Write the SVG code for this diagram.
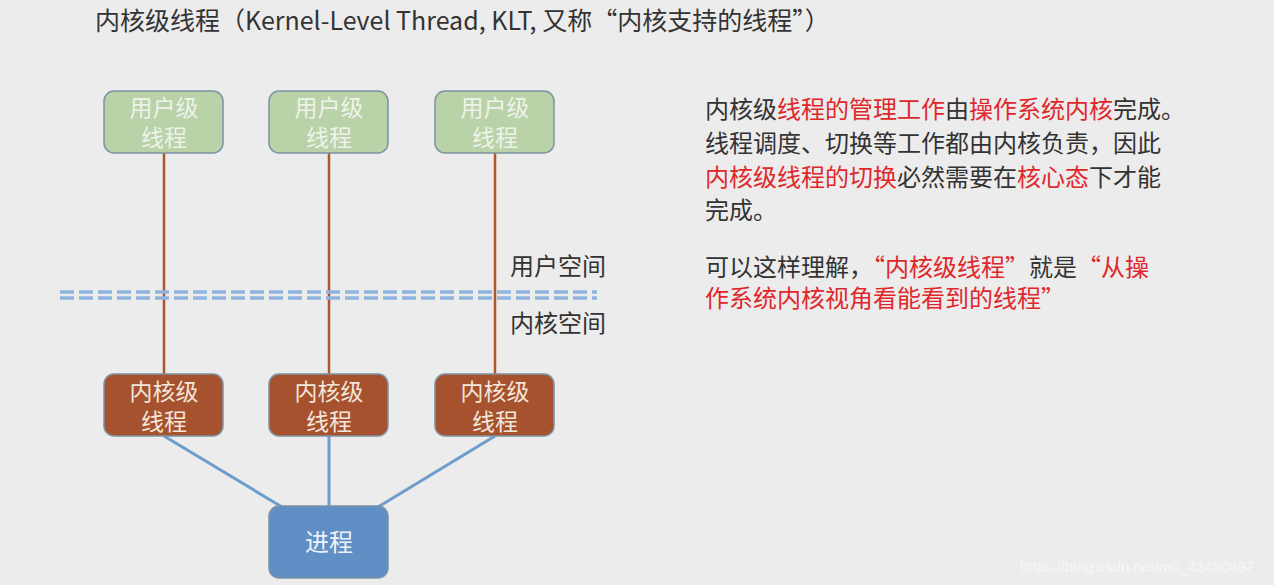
<svg xmlns="http://www.w3.org/2000/svg" width="1274" height="585" viewBox="0 0 1274 585">
<style>
text{font-family:"Noto Sans CJK SC","Noto Sans",sans-serif}
.u rect{fill:#b9d2a8;stroke:#7c93a4;stroke-width:1.5}
.u text{fill:#eef2ea;font-size:23px;text-anchor:middle}
.k rect{fill:#a6522e;stroke:#7c93a4;stroke-width:1.5}
.k text{fill:#f3e6dc;font-size:23px;text-anchor:middle}
.r{stroke:#b0562f;stroke-width:2.5}
.b{stroke:#6e9ccc;stroke-width:3}
.t{font-size:24px;fill:#333}
.red{fill:#e0282c}
</style>
<rect width="1274" height="585" fill="#ececec"/>
<text x="95" y="30" class="t" style="font-size:25px">内核级线程（Kernel-Level Thread, KLT, 又称“内核支持的线程”）</text>
<g id="connectors">
<line class="r" x1="164" y1="153" x2="164" y2="374"/>
<line class="r" x1="329" y1="153" x2="329" y2="374"/>
<line class="r" x1="495" y1="153" x2="495" y2="374"/>
<line class="b" x1="164" y1="436" x2="282" y2="507"/>
<line class="b" x1="329" y1="436" x2="329" y2="506"/>
<line class="b" x1="495" y1="436" x2="378" y2="507"/>
</g>
<g id="divider" stroke="#8fb4de" stroke-width="3.5" stroke-dasharray="14,5">
<line x1="60" y1="292" x2="597" y2="292"/>
<line x1="60" y1="298" x2="597" y2="298"/>
</g>
<text x="510" y="275" class="t">用户空间</text>
<text x="510" y="332" class="t">内核空间</text>
<g id="u1" class="u"><rect x="104" y="91" width="119" height="62" rx="10"/><text x="164" y="116">用户级</text><text x="164" y="146">线程</text></g>
<g id="u2" class="u"><rect x="269" y="91" width="119" height="62" rx="10"/><text x="329" y="116">用户级</text><text x="329" y="146">线程</text></g>
<g id="u3" class="u"><rect x="435" y="91" width="119" height="62" rx="10"/><text x="495" y="116">用户级</text><text x="495" y="146">线程</text></g>
<g id="k1" class="k"><rect x="104" y="374" width="119" height="62" rx="10"/><text x="164" y="400">内核级</text><text x="164" y="430">线程</text></g>
<g id="k2" class="k"><rect x="269" y="374" width="119" height="62" rx="10"/><text x="329" y="400">内核级</text><text x="329" y="430">线程</text></g>
<g id="k3" class="k"><rect x="435" y="374" width="119" height="62" rx="10"/><text x="495" y="400">内核级</text><text x="495" y="430">线程</text></g>
<g id="proc"><rect x="269" y="506" width="119" height="72" rx="10" fill="#5f8fc4" stroke="#7c93a4" stroke-width="1.5"/><text x="329" y="551" style="font-size:24px;fill:#eef3f9;text-anchor:middle">进程</text></g>
<g class="t">
<text x="705" y="118">内核级<tspan class="red">线程的管理工作</tspan>由<tspan class="red">操作系统内核</tspan>完成。</text>
<text x="705" y="152">线程调度、切换等工作都由内核负责，因此</text>
<text x="705" y="186"><tspan class="red">内核级线程的切换</tspan>必然需要在<tspan class="red">核心态</tspan>下才能</text>
<text x="705" y="219">完成。</text>
<text x="705" y="276">可以这样理解，<tspan class="red">“内核级线程”</tspan>就是<tspan class="red">“从操</tspan></text>
<text x="705" y="307"><tspan class="red">作系统内核视角看能看到的线程”</tspan></text>
</g>
<text x="1020" y="572" style="font-family:'Liberation Sans',sans-serif;font-size:15px;fill:#f6f6f6">https://blog.csdn.net/m0_43450897</text>
</svg>
